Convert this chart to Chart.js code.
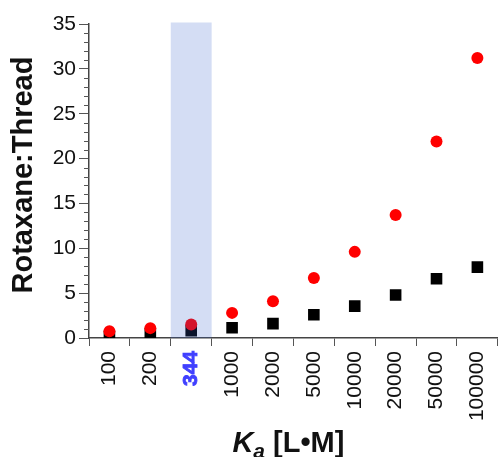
<!DOCTYPE html>
<html>
<head>
<meta charset="utf-8">
<script src="https://cdn.jsdelivr.net/npm/chart.js@4"></script>
<style>
  html, body { margin: 0; padding: 0; background: #fff; overflow: hidden; }
  #wrap { width: 508px; height: 457px; position: relative; }
</style>
</head>
<body>
<div id="wrap"><canvas id="chart"></canvas></div>
<script>
const kaLabels = ['100', '200', '344', '1000', '2000', '5000', '10000', '20000', '50000', '100000'];
const circleValues = [0.75, 1.1, 1.5, 2.8, 4.1, 6.7, 9.6, 13.7, 21.9, 31.2];
const squareValues = [0.2, 0.5, 0.8, 1.15, 1.6, 2.6, 3.55, 4.8, 6.6, 7.9];
const yMin = 0;
const yMax = 35;
const yMajorStep = 5;
const highlightIndex = 2;

const FONT = "'Liberation Sans', Arial, Helvetica, sans-serif";
const X_TICK_LEN = 8;
const X_TICK_PAD = 5;

// minor ticks on the y axis (every 1 unit)
const minorTicks = {
    id: 'minorTicks',
    afterDraw(chart) {
        const y = chart.scales.y;
        const ctx = chart.ctx;
        const left = chart.chartArea.left;
        ctx.save();
        ctx.strokeStyle = '#555';
        ctx.lineWidth = 1;
        for (let v = yMin; v <= yMax; v++) {
            if (v % yMajorStep === 0) continue;
            const py = Math.round(y.getPixelForValue(v)) + 0.5;
            ctx.beginPath();
            ctx.moveTo(left - 5, py);
            ctx.lineTo(left, py);
            ctx.stroke();
        }
        ctx.restore();
    }
};

// translucent band over the 344 column + its bold blue label
const highlightBand = {
    id: 'highlightBand',
    afterDatasetsDraw(chart) {
        const x = chart.scales.x;
        const area = chart.chartArea;
        const half = (x.getPixelForValue(1) - x.getPixelForValue(0)) / 2;
        const cx = x.getPixelForValue(highlightIndex);
        const ctx = chart.ctx;
        ctx.save();
        ctx.fillStyle = 'rgba(52, 95, 205, 0.21)';
        ctx.fillRect(cx - half, area.top - 1.5, half * 2, area.bottom - area.top + 1.5);
        ctx.restore();
    },
    afterDraw(chart) {
        const x = chart.scales.x;
        const ctx = chart.ctx;
        ctx.save();
        ctx.translate(x.getPixelForValue(highlightIndex), chart.chartArea.bottom + X_TICK_LEN + X_TICK_PAD);
        ctx.rotate(-Math.PI / 2);
        ctx.font = 'bold 21px ' + FONT;
        ctx.fillStyle = '#4040ff';
        ctx.strokeStyle = '#4040ff';
        ctx.lineWidth = 0.9;
        ctx.textAlign = 'right';
        ctx.textBaseline = 'middle';
        ctx.fillText(kaLabels[highlightIndex], 0, 0);
        ctx.strokeText(kaLabels[highlightIndex], 0, 0);
        ctx.restore();
    }
};

// axis titles (mixed italic / subscript on the x title)
const axisTitles = {
    id: 'axisTitles',
    afterDraw(chart) {
        const ctx = chart.ctx;
        const area = chart.chartArea;
        ctx.save();
        ctx.fillStyle = '#111';

        // y title
        ctx.save();
        ctx.translate(24, (area.top + area.bottom) / 2 - 6);
        ctx.rotate(-Math.PI / 2);
        ctx.font = 'bold 29px ' + FONT;
        ctx.textAlign = 'center';
        ctx.textBaseline = 'middle';
        ctx.fillText('Rotaxane:Thread', 0, 0);
        ctx.restore();

        // x title: K_a [L•M]
        const parts = [
            { t: 'K', font: 'italic bold 29px ' + FONT, dy: 0 },
            { t: 'a', font: 'italic bold 21px ' + FONT, dy: 6 },
            { t: ' [L\u2022M]', font: 'bold 29px ' + FONT, dy: 0 }
        ];
        let total = 0;
        parts.forEach(p => { ctx.font = p.font; p.w = ctx.measureText(p.t).width; total += p.w; });
        let px = (area.left + area.right) / 2 - 5 - total / 2;
        const base = 452;
        ctx.textBaseline = 'alphabetic';
        ctx.textAlign = 'left';
        parts.forEach(p => {
            ctx.font = p.font;
            ctx.fillText(p.t, px, base + p.dy);
            px += p.w;
        });
        ctx.restore();
    }
};

new Chart(document.getElementById('chart'), {
    type: 'line',
    data: {
        labels: kaLabels,
        datasets: [
            {
                label: 'circles',
                data: circleValues,
                showLine: false,
                pointStyle: 'circle',
                pointRadius: 6,
                pointBackgroundColor: '#ff0000',
                pointBorderColor: '#ff0000',
                pointBorderWidth: 0,
                order: 0
            },
            {
                label: 'squares',
                data: squareValues,
                showLine: false,
                pointStyle: 'rect',
                pointRadius: 8.2,
                pointBackgroundColor: '#000',
                pointBorderColor: '#000',
                pointBorderWidth: 0,
                order: 1
            }
        ]
    },
    options: {
        responsive: true,
        maintainAspectRatio: false,
        animation: false,
        layout: { padding: { top: 24, right: 0, bottom: 0, left: 0 } },
        plugins: {
            legend: { display: false },
            tooltip: { enabled: false }
        },
        scales: {
            x: {
                type: 'category',
                offset: true,
                grid: {
                    offset: true,
                    drawOnChartArea: false,
                    tickLength: X_TICK_LEN,
                    color: '#555'
                },
                border: { display: true, color: '#444', width: 1.5 },
                ticks: {
                    autoSkip: false,
                    minRotation: 90,
                    maxRotation: 90,
                    padding: X_TICK_PAD,
                    color: '#111',
                    font: { family: FONT, size: 21 },
                    // the highlighted label is drawn bold by the plugin
                    callback: function(value, index) {
                        return index === highlightIndex ? '' : this.getLabelForValue(value);
                    }
                },
                afterFit: (scale) => { scale.height = 119; }
            },
            y: {
                min: yMin,
                max: yMax,
                grid: {
                    drawOnChartArea: false,
                    tickLength: 10,
                    color: '#555'
                },
                border: { display: true, color: '#444', width: 1.5 },
                ticks: {
                    stepSize: yMajorStep,
                    padding: 3,
                    color: '#111',
                    font: { family: FONT, size: 21 }
                },
                afterFit: (scale) => { scale.width = 89; }
            }
        }
    },
    plugins: [minorTicks, highlightBand, axisTitles]
});
</script>
</body>
</html>
